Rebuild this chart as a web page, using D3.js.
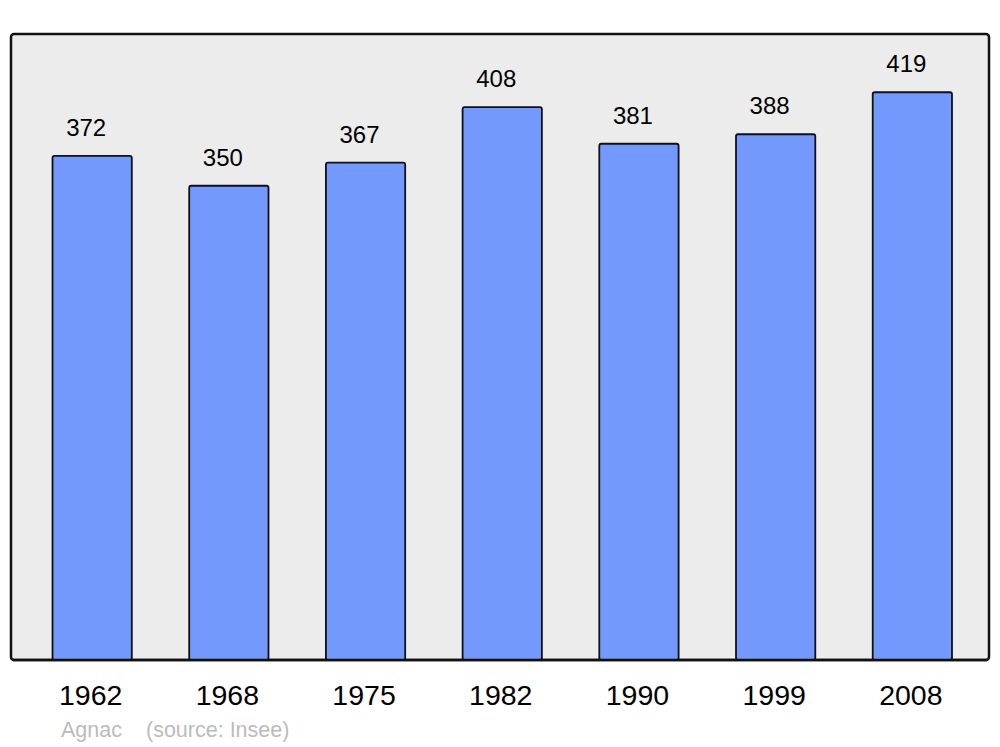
<!DOCTYPE html>
<html lang="fr">
<head>
<meta charset="UTF-8">
<title>Agnac population</title>
<script src="https://d3js.org/d3.v7.min.js"></script>
<style>
  body { margin: 0; background: #fff; }
  svg { display: block; font-family: "Liberation Sans", Arial, sans-serif; }
</style>
</head>
<body>
<svg width="1000" height="747"></svg>
<script>
const years = ["1962", "1968", "1975", "1982", "1990", "1999", "2008"];
const population = [372, 350, 367, 408, 381, 388, 419];

const svg = d3.select("svg");
const panel = {left: 11, top: 34, right: 989, bottom: 660};

const x = d3.scaleBand()
    .domain(years)
    .range([11.5, 993])
    .paddingInner(0.42)
    .paddingOuter(0.3);
const y = d3.scaleLinear()
    .domain([0, 462])
    .range([panel.bottom, panel.top]);

svg.append("rect")
    .attr("x", panel.left)
    .attr("y", panel.top)
    .attr("width", panel.right - panel.left)
    .attr("height", panel.bottom - panel.top)
    .attr("rx", 3)
    .attr("fill", "#ececec")
    .attr("stroke", "#111")
    .attr("stroke-width", 2.5);

const data = years.map((yr, i) => ({year: yr, value: population[i]}));

svg.selectAll(".bar")
    .data(data)
    .enter().append("rect")
    .attr("class", "bar")
    .attr("x", d => x(d.year))
    .attr("y", d => y(d.value))
    .attr("width", x.bandwidth())
    .attr("height", d => y(0) - y(d.value))
    .attr("rx", 2)
    .attr("fill", "#7399ff")
    .attr("stroke", "#111")
    .attr("stroke-width", 1.8);

// redraw bottom border over bar bases
svg.append("line")
    .attr("x1", panel.left + 2).attr("x2", panel.right - 2)
    .attr("y1", panel.bottom).attr("y2", panel.bottom)
    .attr("stroke", "#111").attr("stroke-width", 2.5);

svg.selectAll(".val")
    .data(data)
    .enter().append("text")
    .attr("class", "val")
    .attr("x", d => x(d.year) + x.bandwidth() / 2 - 6)
    .attr("y", d => y(d.value) - 20)
    .attr("text-anchor", "middle")
    .attr("font-size", 24)
    .attr("fill", "#000")
    .text(d => d.value);

svg.selectAll(".yr")
    .data(years)
    .enter().append("text")
    .attr("class", "yr")
    .attr("x", d => x(d) + x.bandwidth() / 2 - 1.5)
    .attr("y", 705)
    .attr("text-anchor", "middle")
    .attr("font-size", 28.5)
    .attr("fill", "#000")
    .text(d => d);

svg.append("text")
    .attr("x", 61)
    .attr("y", 737)
    .attr("font-size", 21.5)
    .attr("fill", "#bbb")
    .text("Agnac");
svg.append("text")
    .attr("x", 146)
    .attr("y", 737)
    .attr("font-size", 21.5)
    .attr("fill", "#bbb")
    .text("(source: Insee)");
</script>
</body>
</html>
